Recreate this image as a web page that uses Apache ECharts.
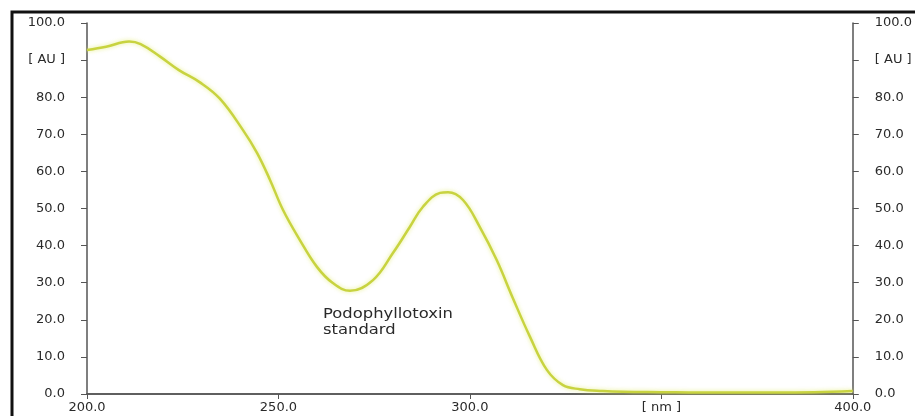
<!DOCTYPE html>
<html>
<head>
<meta charset="utf-8">
<script src="https://cdn.jsdelivr.net/npm/echarts@6/dist/echarts.min.js"></script>
<style>
html,body{margin:0;padding:0;background:#fff;}
#chart{width:915px;height:416px;}
</style>
</head>
<body>
<div id="chart"></div>
<script>
// Wavelength (nm)
var wavelengths = [200, 205, 211, 214, 219, 224, 229.5, 234.7, 240.7, 244.4, 247.8, 251.2, 255.6, 260.1, 264.2, 268.7, 274.7, 279.9, 284.3, 287.7, 292.2, 294.3, 298.2, 302.6, 307.0, 311.2, 315.7, 320.1, 324.3, 328.7, 334.7, 340, 350, 360, 370, 380, 390, 400];
// Absorbance (AU)
var absorbance = [92.7, 93.6, 95.0, 94.3, 91.0, 87.3, 84.0, 79.6, 71.2, 65.0, 57.7, 49.6, 41.5, 34.2, 29.9, 27.8, 30.7, 38.0, 45.0, 50.4, 54.2, 54.4, 52.3, 45.0, 36.1, 25.9, 15.4, 6.5, 2.4, 1.3, 0.8, 0.6, 0.5, 0.4, 0.4, 0.4, 0.5, 0.8];
var yTicks = [0, 10, 20, 30, 40, 50, 60, 70, 80, 90, 100];
var yAxisUnit = '[ AU ]';
var xAxisUnit = '[ nm ]';
var annotation = 'Podophyllotoxin\nstandard';

var data = wavelengths.map(function (w, i) { return [w, absorbance[i]]; });

function yFmt(v) { return v === 90 ? yAxisUnit : v.toFixed(1); }
function xFmt(v) { return v === 350 ? xAxisUnit : v.toFixed(1); }

var labelFont = { fontFamily: 'DejaVu Sans', fontSize: 13, color: '#2a2a2a' };
var axisLine = { show: true, lineStyle: { color: '#555', width: 1.5 } };

var chart = echarts.init(document.getElementById('chart'));
chart.setOption({
  animation: false,
  backgroundColor: '#fff',
  grid: { left: 87, right: 62, top: 23, bottom: 22, containLabel: false },
  xAxis: [
    {
      type: 'value', min: 200, max: 400, interval: 50, position: 'bottom',
      axisLine: axisLine,
      axisTick: { show: true, length: 5, lineStyle: { color: '#555' } },
      axisLabel: Object.assign({ margin: 7, formatter: xFmt }, labelFont),
      splitLine: { show: false }
    },
    {
      type: 'value', min: 200, max: 400, interval: 50, position: 'top',
      axisLine: axisLine, axisTick: { show: false }, axisLabel: { show: false },
      splitLine: { show: false }
    }
  ],
  yAxis: [
    {
      type: 'value', min: 0, max: 100, interval: 10, position: 'left',
      axisLine: axisLine,
      axisTick: { show: true, length: 6, lineStyle: { color: '#555' } },
      axisLabel: Object.assign({ margin: 22, formatter: yFmt }, labelFont),
      splitLine: { show: false }
    },
    {
      type: 'value', min: 0, max: 100, interval: 10, position: 'right',
      axisLine: axisLine,
      axisTick: { show: true, length: 6, lineStyle: { color: '#555' } },
      axisLabel: Object.assign({ margin: 22, formatter: yFmt }, labelFont),
      splitLine: { show: false }
    }
  ],
  series: [{
    type: 'line',
    data: data,
    smooth: 0.4,
    showSymbol: false,
    lineStyle: { color: '#c8d340', width: 2.5, shadowColor: 'rgba(225,235,110,0.8)', shadowBlur: 4 }
  }],
  graphic: [
    {
      type: 'rect', shape: { x: 12, y: 12, width: 920, height: 430 },
      style: { fill: 'none', stroke: '#111', lineWidth: 3 }, silent: true, z: 100
    },
    {
      type: 'text', left: 323, top: 306, scaleX: 1.17, originX: 0,
      style: { text: annotation, font: '14px "DejaVu Sans"', fill: '#2a2a2a', lineHeight: 16 }
    }
  ]
});
</script>
</body>
</html>
